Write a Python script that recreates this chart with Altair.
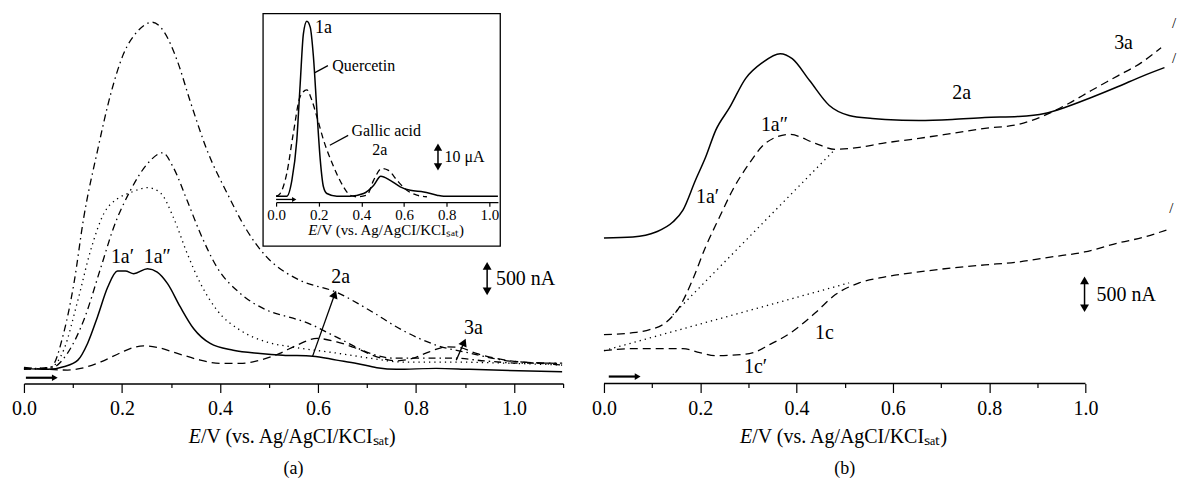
import altair as alt
import pandas as pd

FONT = "Liberation Serif"
XTITLE_REST = "/V (vs. Ag/AgCI/KCIₛₐₜ)"

# ---------------- panel (a): main curves, E in V, I in nA (arbitrary zero) ----------------
a_dd1_E = [0.000, 0.055, 0.081, 0.102, 0.122, 0.150, 0.177, 0.203, 0.232, 0.262, 0.285, 0.313, 0.339, 0.374,
           0.415, 0.455, 0.496, 0.537, 0.563, 0.638, 0.705, 0.772, 0.841, 0.909, 0.976, 1.045, 1.098]
a_dd1_I = [218, 248, 758, 1508, 2498, 3503, 4358, 4958, 5303, 5438, 5303, 4853, 4253, 3503,
           2858, 2303, 1898, 1658, 1553, 1373, 1103, 803, 578, 458, 353, 308, 278]

a_dd2_E = [0.000, 0.055, 0.089, 0.122, 0.157, 0.183, 0.217, 0.252, 0.283, 0.305, 0.333, 0.360, 0.394, 0.441,
           0.496, 0.549, 0.569, 0.638, 0.705, 0.752, 0.807, 0.874, 0.943, 1.010, 1.098]
a_dd2_I = [218, 233, 458, 953, 1748, 2348, 2903, 3308, 3473, 3248, 2753, 2258, 1748, 1358,
           1103, 983, 938, 698, 458, 383, 383, 383, 338, 308, 308]

a_dot_E = [0.000, 0.055, 0.081, 0.110, 0.136, 0.163, 0.191, 0.217, 0.252, 0.278, 0.305, 0.333, 0.360, 0.394,
           0.441, 0.496, 0.549, 0.638, 0.705, 0.772, 0.874, 0.976, 1.098]
a_dot_I = [218, 248, 503, 1253, 2003, 2558, 2783, 2873, 2948, 2873, 2498, 1958, 1508, 1103,
           803, 623, 548, 458, 383, 323, 323, 308, 278]

a_sol_E = [0.000, 0.049, 0.081, 0.110, 0.130, 0.150, 0.171, 0.191, 0.207, 0.224, 0.252, 0.272, 0.293, 0.319,
           0.346, 0.380, 0.427, 0.482, 0.528, 0.589, 0.638, 0.679, 0.720, 0.760, 0.841, 0.909, 1.010, 1.098]
a_sol_I = [228, 213, 252, 352, 607, 1002, 1452, 1692, 1692, 1653, 1728, 1677, 1503, 1152,
           828, 603, 502, 453, 427, 412, 352, 303, 237, 213, 228, 213, 192, 177]

a_dsh_E = [0.000, 0.049, 0.089, 0.116, 0.157, 0.197, 0.224, 0.244, 0.272, 0.313, 0.360, 0.400, 0.441, 0.482,
           0.522, 0.557, 0.598, 0.638, 0.679, 0.720, 0.760, 0.793, 0.827, 0.862, 0.888, 0.923, 0.963, 1.010, 1.098]
a_dsh_I = [243, 213, 203, 228, 327, 462, 543, 567, 543, 453, 353, 303, 303, 353,
           453, 578, 678, 627, 528, 402, 342, 378, 477, 552, 543, 453, 378, 327, 303]

a_lab_text = ["1a′", "1a″", "2a", "3a"]
a_lab_E = [0.201, 0.272, 0.646, 0.917]
a_lab_I = [1897, 1897, 1602, 832]

a_arrow_E = [0.589, 0.882]
a_arrow_I = [412, 352]
a_arrow_E2 = [0.634, 0.898]
a_arrow_I2 = [1343, 622]
a_arrow_ang = [21, 24]

a_bar_E = [0.945]
a_bar_I = [1388]
a_bar_I2 = [1770]
a_bar_text_E = [0.963]
a_bar_text_I = [1578]
a_bar_text = ["500 nA"]

a_scan_E = [0.004]
a_scan_E2 = [0.063]
a_scan_I = [87]

# axis title pieces and panel tag (below the axis)
a_title_split_E = [0.361]
a_title_I = [-802]
a_tag_E = [0.55]
a_tag_I = [-1290]
a_tag = ["(a)"]

A_TICKS = [0.0, 0.1, 0.2, 0.3, 0.4, 0.5, 0.6, 0.7, 0.8, 0.9, 1.0, 1.1]

# ---------------- inset of panel (a): E in V, I in µA ----------------
in_q_E = [0.000, 0.050, 0.074, 0.097, 0.113, 0.128, 0.144, 0.160, 0.175, 0.191, 0.207, 0.222, 0.238,
          0.285, 0.347, 0.410, 0.457, 0.491, 0.535, 0.582, 0.629, 0.692, 0.754, 0.786, 1.040]
in_q_I = [0, 0, 5.9, 20.7, 41.7, 60.3, 65.0, 62.8, 51.9, 32.1, 13.6, 3.5, 1.0,
          0, 0, 1.0, 4.0, 7.4, 5.9, 3.5, 2.2, 1.6, 0.4, 0, 0]

in_g_E = [0.000, 0.019, 0.050, 0.081, 0.113, 0.144, 0.167, 0.191, 0.222, 0.269, 0.316, 0.347, 0.379,
          0.426, 0.457, 0.496, 0.527, 0.567, 0.613, 0.660, 0.707]
in_g_I = [0, 1.0, 8.4, 23.5, 37.0, 39.5, 35.8, 29.6, 21.0, 11.1, 3.5, 0.4, -0.2,
          0.4, 5.9, 10.3, 9.6, 5.9, 2.2, 0.4, -0.2]

in_lab_text = ["Quercetin", "Gallic acid", "2a"]
in_lab_E = [0.411, 0.516, 0.486]
in_lab_I = [48.5, 24.4, 17.0]
in_peak_text = ["1a"]
in_peak_E = [0.222]
in_peak_I = [62.6]
in_lead_E = [0.182, 0.252]
in_lead_E2 = [0.243, 0.338]
in_lead_I = [45.9, 18.9]
in_lead_I2 = [48.5, 22.6]
in_bar_E = [0.759]
in_bar_I = [10.9]
in_bar_I2 = [18.2]
in_bar_text = ["10 μA"]
in_bar_text_E = [0.79]
in_bar_text_I = [14.4]
in_scan_E = [0.0]
in_scan_E2 = [0.085]
in_scan_I = [-1.2]
in_frame_E = [-0.061]
in_frame_E2 = [1.051]
in_frame_I = [-18.5]
in_frame_I2 = [67.8]
in_title_split_E = [0.193]
in_title_I = [-12.6]
IN_TICKS = [0.0, 0.2, 0.4, 0.6, 0.8, 1.0]

# ---------------- panel (b) ----------------
b_sol_E = [0.000, 0.060, 0.108, 0.143, 0.164, 0.190, 0.211, 0.232, 0.261, 0.294, 0.329, 0.366, 0.391, 0.427,
           0.468, 0.509, 0.557, 0.584, 0.654, 0.723, 0.791, 0.861, 0.915, 0.957, 1.012, 1.068, 1.116, 1.164]
b_sol_I = [2190, 2205, 2280, 2430, 2610, 3060, 3405, 3810, 4155, 4590, 4830, 4965, 4890, 4560,
           4185, 4035, 3990, 3975, 3960, 3975, 4005, 4020, 4065, 4155, 4305, 4470, 4620, 4755]

b_dup_E = [0.000, 0.060, 0.095, 0.128, 0.157, 0.184, 0.211, 0.240, 0.267, 0.302, 0.335, 0.385, 0.439,
           0.480, 0.530, 0.578, 0.654, 0.723, 0.791, 0.861, 0.915, 0.965, 1.012, 1.068, 1.116, 1.157]
b_dup_I = [735, 765, 810, 915, 1155, 1560, 2055, 2505, 2910, 3315, 3615, 3750, 3615,
           3525, 3555, 3615, 3690, 3765, 3840, 3900, 4035, 4215, 4410, 4635, 4830, 5055]

b_dlo_E = [0.000, 0.060, 0.164, 0.199, 0.232, 0.302, 0.344, 0.391, 0.439, 0.480, 0.530, 0.584, 0.654,
           0.723, 0.791, 0.861, 0.930, 0.998, 1.068, 1.122, 1.168]
b_dlo_I = [495, 525, 525, 465, 420, 450, 585, 780, 1065, 1335, 1515, 1605, 1680,
           1740, 1785, 1830, 1905, 1980, 2115, 2205, 2310]

b_dot1_E = [0.143, 0.480]
b_dot1_I = [1035, 3525]
b_dot2_E = [0.000, 0.509]
b_dot2_I = [495, 1515]

b_lab_text = ["1a′", "1a″", "2a", "3a", "1c", "1c′"]
b_lab_E = [0.215, 0.354, 0.743, 1.079, 0.458, 0.315]
b_lab_I = [2805, 3885, 4365, 5130, 765, 255]

b_bar_E = [0.998]
b_bar_I = [1133]
b_bar_I2 = [1553]
b_bar_text = ["500 nA"]
b_bar_text_E = [1.023]
b_bar_text_I = [1335]

b_scan_E = [0.010]
b_scan_E2 = [0.070]
b_scan_I = [105]

b_break_E = [1.184, 1.184, 1.178]
b_break_I = [5430, 4898, 2640]

b_title_split_E = [0.308]
b_title_I = [-802]
b_tag_E = [0.5]
b_tag_I = [-1290]
b_tag = ["(b)"]

B_TICKS = [0.0, 0.1, 0.2, 0.3, 0.4, 0.5, 0.6, 0.7, 0.8, 0.9, 1.0]
B_AXIS_E = [0.0]
B_AXIS_E2 = [1.0]
B_AXIS_I = [0]

# ---------------- layout constants ----------------
W_A, W_B, H = 541, 575, 376
I_DOMAIN = [0, 5640]

LABEL_EXPR = "round(datum.value*10) % 2 === 0 ? format(datum.value, '.1f') : ''"
TICK_SIZE = {"condition": {"test": "round(datum.value*10) % 2 === 0", "value": 9}, "value": 4}

axis_common = dict(
    labelExpr=LABEL_EXPR, tickSize=TICK_SIZE, tickWidth=1.2, tickColor="black",
    domainColor="black", domainWidth=1.4, labelFont=FONT, labelFontSize=20, labelColor="black",
    labelPadding=6, grid=False, labelFlush=False, labelOverlap=False, title=None,
)


def make_layers(xenc, yenc, xf, yf):
    def line(E, I, dash=None, width=1.3):
        kw = dict(color="black", strokeWidth=width, interpolate="monotone", strokeCap="butt")
        if dash:
            kw["strokeDash"] = dash
        df = pd.DataFrame({xf: E, yf: I, "k": list(range(len(E)))})
        return alt.Chart(df).mark_line(**kw).encode(x=xenc, y=yenc, order="k:Q")

    def seg(E, E2, I, I2, width=1.3):
        df = pd.DataFrame({xf: E, xf + "2": E2, yf: I, yf + "2": I2})
        return alt.Chart(df).mark_rule(color="black", strokeWidth=width).encode(
            x=xenc, x2=alt.X2(xf + "2:Q"), y=yenc, y2=alt.Y2(yf + "2:Q"))

    def heads(E, I, ang, size=70):
        df = pd.DataFrame({xf: E, yf: I, "ang": ang})
        return alt.Chart(df).mark_point(shape="triangle-up", filled=True, color="black",
                                        opacity=1, size=size, strokeWidth=0).encode(
            x=xenc, y=yenc, angle=alt.Angle("ang:Q", scale=None))

    def text(E, I, labels, size=20, align="center", style="normal"):
        df = pd.DataFrame({xf: E, yf: I, "t": labels})
        return alt.Chart(df).mark_text(font=FONT, fontSize=size, color="black", align=align,
                                       baseline="middle", fontStyle=style).encode(
            x=xenc, y=yenc, text="t:N")

    def title(split_E, I, size=20):
        return alt.layer(text(split_E, I, ["E"], size, "right", "italic"),
                         text(split_E, I, [XTITLE_REST], size, "left"))

    return line, seg, heads, text, title


# ---------------- panel (a) ----------------
xA = alt.X("E:Q", scale=alt.Scale(domain=[0, 1.1], nice=False, zero=False),
           axis=alt.Axis(values=A_TICKS, **axis_common))
yA = alt.Y("I:Q", scale=alt.Scale(domain=I_DOMAIN, nice=False, zero=False), axis=None)
lineA, segA, headsA, textA, titleA = make_layers(xA, yA, "E", "I")

mainA = alt.layer(
    lineA(a_dd1_E, a_dd1_I, [7, 4, 1.5, 4]),
    lineA(a_dd2_E, a_dd2_I, [7, 4, 1.5, 4]),
    lineA(a_dot_E, a_dot_I, [1.3, 4]),
    lineA(a_sol_E, a_sol_I, None, 1.5),
    lineA(a_dsh_E, a_dsh_I, [8, 5]),
    segA(a_arrow_E, a_arrow_E2, a_arrow_I, a_arrow_I2),
    headsA(a_arrow_E2, a_arrow_I2, a_arrow_ang, 80),
    segA(a_bar_E, a_bar_E, a_bar_I, a_bar_I2, 1.5),
    headsA(a_bar_E + a_bar_E, a_bar_I2 + a_bar_I, [0, 180], 80),
    segA(a_scan_E, a_scan_E2, a_scan_I, a_scan_I, 2.2),
    headsA(a_scan_E2, a_scan_I, [90], 45),
    textA(a_lab_E, a_lab_I, a_lab_text),
    textA(a_bar_text_E, a_bar_text_I, a_bar_text, 20, "left"),
    titleA(a_title_split_E, a_title_I),
    textA(a_tag_E, a_tag_I, a_tag, 18),
)

xIn = alt.X("Ein:Q", scale=alt.Scale(domain=[0, 1.04], range=[253, 475.6], nice=False, zero=False),
            axis=alt.Axis(orient="bottom", offset=194 - H, values=IN_TICKS, format=".1f",
                          tickSize=4, tickWidth=1.2, tickColor="black", domainColor="black",
                          domainWidth=1.3, labelFont=FONT, labelFontSize=15, labelColor="black",
                          labelPadding=1, grid=False, labelFlush=False,
                          labelOverlap=False, title=None, zindex=1))
yIn = alt.Y("Iin:Q", scale=alt.Scale(domain=[-2.2, 65.9], range=[194, 10], nice=False, zero=False),
            axis=None)
lineI, segI, headsI, textI, titleI = make_layers(xIn, yIn, "Ein", "Iin")

frame = alt.Chart(pd.DataFrame({"Ein": in_frame_E, "Ein2": in_frame_E2, "Iin": in_frame_I,
                                "Iin2": in_frame_I2})).mark_rect(
    fill="white", stroke="black", strokeWidth=1.3).encode(
    x=xIn, x2=alt.X2("Ein2:Q"), y=yIn, y2=alt.Y2("Iin2:Q"))

insetA = alt.layer(
    frame,
    lineI(in_g_E, in_g_I, [6, 4], 1.3),
    lineI(in_q_E, in_q_I, None, 1.5),
    segI(in_lead_E, in_lead_E2, in_lead_I, in_lead_I2, 1.2),
    segI(in_bar_E, in_bar_E, in_bar_I, in_bar_I2, 1.5),
    headsI(in_bar_E + in_bar_E, in_bar_I2 + in_bar_I, [0, 180], 70),
    segI(in_scan_E, in_scan_E2, in_scan_I, in_scan_I, 1.3),
    headsI(in_scan_E2, in_scan_I, [90], 25),
    textI(in_lab_E, in_lab_I, in_lab_text, 16),
    textI(in_peak_E, in_peak_I, in_peak_text, 18),
    textI(in_bar_text_E, in_bar_text_I, in_bar_text, 16, "left"),
    titleI(in_title_split_E, in_title_I, 15),
)

panelA = alt.layer(mainA, insetA).resolve_scale(x="independent", y="independent").properties(
    width=W_A, height=H)

# ---------------- panel (b) ----------------
xB = alt.X("E:Q", scale=alt.Scale(domain=[0, 1.19], nice=False, zero=False),
           axis=alt.Axis(values=B_TICKS, domain=False, **axis_common))
yB = alt.Y("I:Q", scale=alt.Scale(domain=I_DOMAIN, nice=False, zero=False), axis=None)
lineB, segB, headsB, textB, titleB = make_layers(xB, yB, "E", "I")

panelB = alt.layer(
    segB(B_AXIS_E, B_AXIS_E2, B_AXIS_I, B_AXIS_I, 1.4),
    lineB(b_sol_E, b_sol_I, None, 1.5),
    lineB(b_dup_E, b_dup_I, [8, 5]),
    lineB(b_dlo_E, b_dlo_I, [8, 5]),
    lineB(b_dot1_E, b_dot1_I, [1.3, 4]),
    lineB(b_dot2_E, b_dot2_I, [1.3, 4]),
    segB(b_bar_E, b_bar_E, b_bar_I, b_bar_I2, 1.5),
    headsB(b_bar_E + b_bar_E, b_bar_I2 + b_bar_I, [0, 180], 80),
    segB(b_scan_E, b_scan_E2, b_scan_I, b_scan_I, 2.2),
    headsB(b_scan_E2, b_scan_I, [90], 45),
    textB(b_lab_E, b_lab_I, b_lab_text),
    textB(b_bar_text_E, b_bar_text_I, b_bar_text, 20, "left"),
    textB(b_break_E, b_break_I, ["/", "/", "/"], 15),
    titleB(b_title_split_E, b_title_I),
    textB(b_tag_E, b_tag_I, b_tag, 18),
).properties(width=W_B, height=H)

chart = alt.hconcat(panelA, panelB, spacing=25).properties(
    padding={"left": 3, "top": 0, "right": 0, "bottom": 0},
    background="white",
).configure_view(stroke=None)

chart.save("out.html", embed_options={"renderer": "svg", "actions": False})
